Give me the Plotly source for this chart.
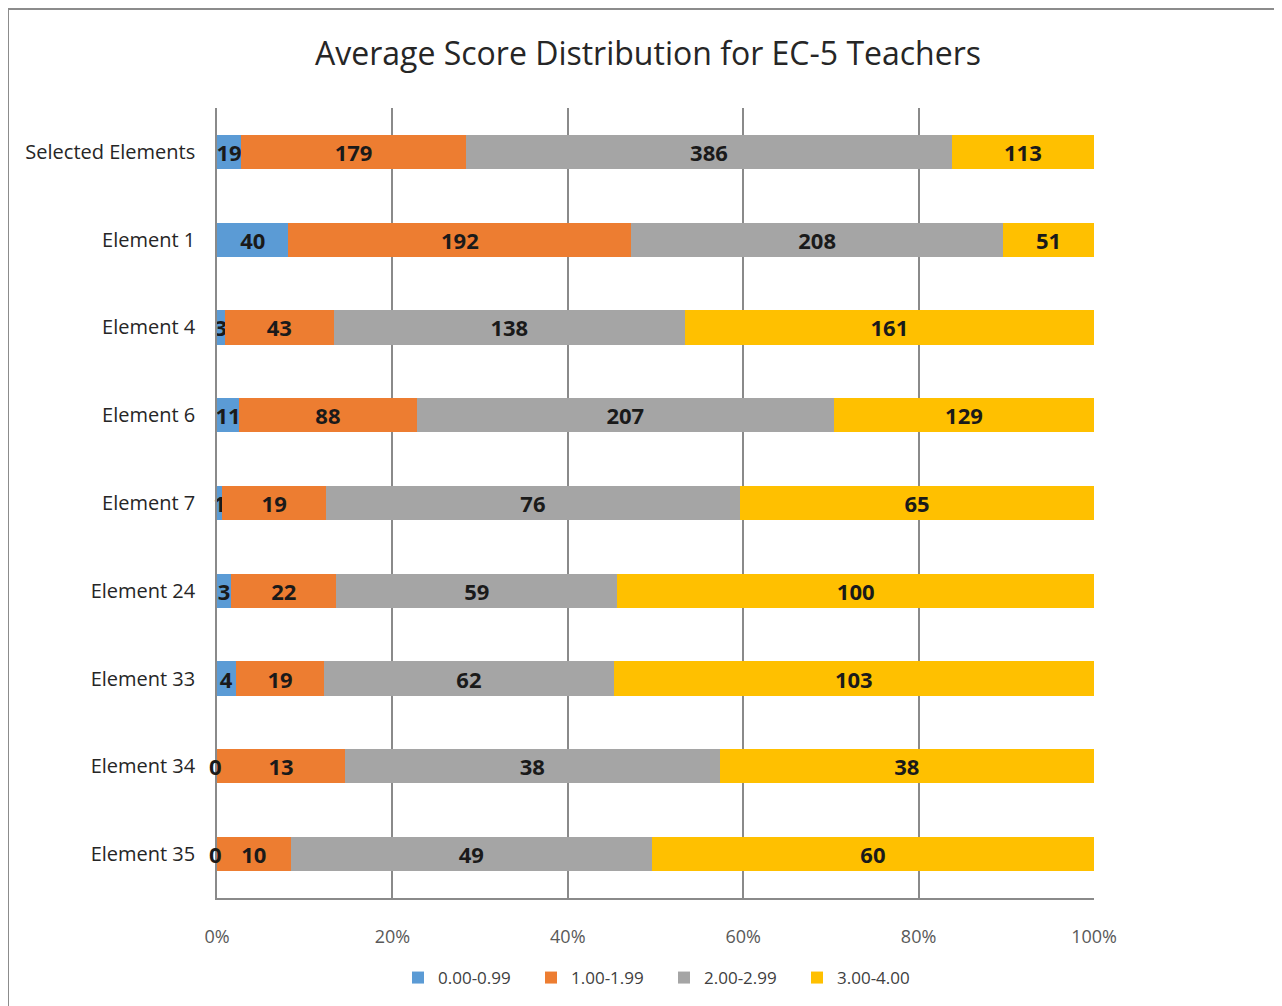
import plotly.graph_objects as go

categories = ["Selected Elements", "Element 1", "Element 4", "Element 6", "Element 7",
              "Element 24", "Element 33", "Element 34", "Element 35"]
series_names = ["0.00-0.99", "1.00-1.99", "2.00-2.99", "3.00-4.00"]
s0 = [19, 40, 3, 11, 1, 3, 4, 0, 0]
s1 = [179, 192, 43, 88, 19, 22, 19, 13, 10]
s2 = [386, 208, 138, 207, 76, 59, 62, 38, 49]
s3 = [113, 51, 161, 129, 65, 100, 103, 38, 60]
colors = ["#5B9BD5", "#ED7D31", "#A5A5A5", "#FFC000"]
tick_vals = [0, 20, 40, 60, 80, 100]
tick_text = ["0%", "20%", "40%", "60%", "80%", "100%"]

FONT = "'Open Sans', Lato, sans-serif"
LABEL_FONT = dict(family=FONT, size=22, color="#1a1a1a", weight="bold")

fig = go.Figure()
for name, vals, col in zip(series_names, [s0, s1, s2, s3], colors):
    fig.add_trace(go.Bar(
        y=categories, x=vals, name=name, orientation="h",
        marker=dict(color=col, line=dict(width=0)),
        text=[str(v) for v in vals], textposition="inside", textangle=0,
        insidetextanchor="middle", constraintext="none",
        textfont=LABEL_FONT,
        cliponaxis=False,
    ))

# zero-valued segments still get their "0" label at the start of the bar
for cat, v in zip(categories, s0):
    if v == 0:
        fig.add_annotation(x=0, y=cat, xref="x", yref="y", text=str(v),
                           showarrow=False, xanchor="center", xshift=-2,
                           font=LABEL_FONT)

W, H = 1282, 1006
OFF = 8  # page body margin
L, T = 217 - OFF, 108 - OFF
R = W - (1094 - OFF)
B = H - (898 - OFF)
pw, ph = W - L - R, H - T - B

fig.update_layout(
    width=W, height=H,
    barmode="stack", barnorm="percent", bargap=0.61,
    paper_bgcolor="white", plot_bgcolor="white",
    margin=dict(l=L, r=R, t=T, b=B),
    font=dict(family=FONT, color="#404040"),
    title=dict(text="Average Score Distribution for EC-5 Teachers",
               x=(648 - OFF) / W, xanchor="center", y=1 - (54 - OFF) / H, yanchor="middle",
               font=dict(family=FONT, size=32, color="#262626")),
    uniformtext=dict(minsize=22, mode="show"),
    showlegend=True,
    legend=dict(orientation="h", x=(664 - 217) / pw, xanchor="center",
                y=-(978 - 898) / ph, yanchor="middle",
                font=dict(family=FONT, size=17, color="#404040"),
                itemwidth=30, traceorder="normal", entrywidth=88),
    xaxis=dict(range=[0, 100], tickvals=tick_vals, ticktext=tick_text,
               showgrid=True, gridcolor="#8a8a8a", gridwidth=1.5,
               showline=True, linecolor="#8a8a8a", linewidth=1.5,
               zeroline=False, ticks="", ticklabelstandoff=22,
               tickfont=dict(family=FONT, size=18, color="#595959")),
    yaxis=dict(autorange="reversed", showline=True, linecolor="#8a8a8a", linewidth=1.5,
               showgrid=False, ticks="", ticklabelstandoff=16,
               tickfont=dict(family=FONT, size=20, color="#262626")),
)

# outer chart-area border (top and left edges visible in the reference)
bx = (8 - 217) / pw
by = (898 - 9) / ph
fig.add_shape(type="line", xref="paper", yref="paper", x0=bx, x1=1.5, y0=by, y1=by,
              line=dict(color="#8c8c8c", width=2))
fig.add_shape(type="line", xref="paper", yref="paper", x0=bx, x1=bx, y0=by, y1=-0.3,
              line=dict(color="#8c8c8c", width=2))

fig.write_html("out.html")
